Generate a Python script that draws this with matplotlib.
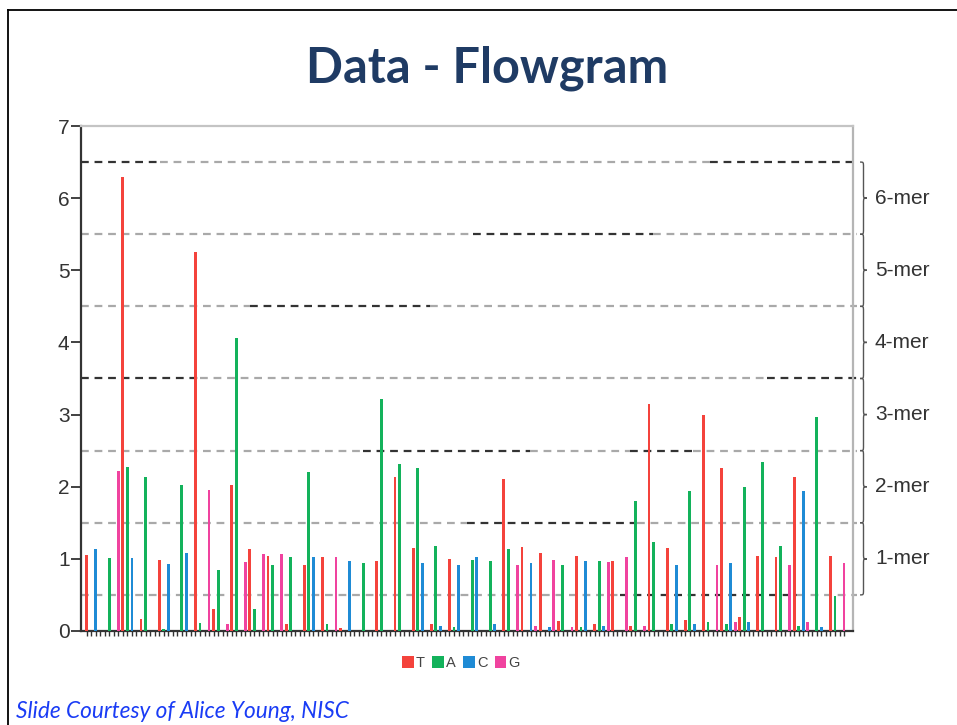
import numpy as np
import matplotlib.pyplot as plt
import matplotlib.transforms as mtransforms
from matplotlib.lines import Line2D
from matplotlib.patches import Patch, PathPatch
from matplotlib.path import Path

plt.rcParams['font.family'] = ['Liberation Sans', 'DejaVu Sans']

# flow cycle and the flows that gave a signal (all other flows are 0)
flow_order = ['T', 'A', 'C', 'G']
n_flows = 168
flow_num = [0, 2, 5, 7, 8, 9, 10, 12, 13, 16, 17, 18, 21, 22, 24, 25, 27, 28, 29, 31,
            32, 33, 35, 36, 37, 39, 40, 41, 43, 44, 45, 48, 49, 50, 52, 53, 55, 56, 58, 61,
            64, 65, 68, 69, 72, 73, 74, 76, 77, 78, 80, 81, 82, 85, 86, 89, 90, 92, 93, 95,
            96, 98, 99, 100, 102, 103, 104, 105, 107, 108, 109, 110, 112, 113, 114, 115, 116, 119, 120, 121,
            123, 124, 125, 128, 129, 130, 132, 133, 134, 136, 137, 139, 140, 141, 142, 143, 144, 145, 146, 148,
            149, 152, 153, 155, 156, 157, 158, 159, 161, 162, 164, 165, 167]
signal = [1.06, 1.14, 1.01, 2.22, 6.30, 2.27, 1.01, 0.16, 2.13, 0.98, 0.03, 0.93, 2.03, 1.08, 5.25, 0.11, 1.96, 0.30, 0.85, 0.09,
          2.03, 4.06, 0.95, 1.14, 0.30, 1.07, 1.04, 0.92, 1.07, 0.09, 1.02, 0.92, 2.21, 1.02, 1.02, 0.09, 1.02, 0.04, 0.97, 0.94,
          0.97, 3.21, 2.13, 2.31, 1.15, 2.26, 0.94, 0.09, 1.18, 0.07, 1.00, 0.05, 0.92, 0.99, 1.03, 0.97, 0.10, 2.11, 1.14, 0.92,
          1.16, 0.94, 0.07, 1.08, 0.05, 0.99, 0.14, 0.92, 0.05, 1.04, 0.05, 0.97, 0.10, 0.97, 0.07, 0.95, 0.97, 1.02, 0.07, 1.80,
          0.07, 3.15, 1.23, 1.15, 0.10, 0.92, 0.15, 1.94, 0.10, 3.00, 0.12, 0.92, 2.26, 0.10, 0.94, 0.12, 0.20, 2.00, 0.12, 1.04,
          2.34, 1.02, 1.18, 0.92, 2.13, 0.07, 1.94, 0.12, 2.97, 0.05, 1.04, 0.48, 0.94]
mer_labels = ['1-mer', '2-mer', '3-mer', '4-mer', '5-mer', '6-mer']
mer_centers = [1, 2, 3, 4, 5, 6]
y_ticks = [0, 1, 2, 3, 4, 5, 6, 7]

base_colors = {'T': '#f4433c', 'A': '#13b25b', 'C': '#1f8bd5', 'G': '#f0439f'}

# dark parts of the half-mer dashed lines (axes fraction), rest is light gray
dark_parts = {6.5: [(0, 0.103), (0.815, 1.006)],
              5.5: [(0.508, 0.741)],
              4.5: [(0.219, 0.452)],
              3.5: [(0, 0.155), (0.889, 1.006)],
              2.5: [(0.366, 0.582), (0.712, 0.793)],
              1.5: [(0.5, 0.721)],
              0.5: [(0.699, 0.928)]}

fig = plt.figure(figsize=(9.57, 7.25), dpi=100)
ax = fig.add_axes([0.0843, 0.1297, 0.8067, 0.6965])

bases = [flow_order[f % 4] for f in flow_num]
ax.bar(flow_num, signal, width=0.62, color=[base_colors[b] for b in bases], zorder=3, linewidth=0)

ax.set_xlim(-1.3, n_flows + 0.9)
ax.set_ylim(0, 7)

# dashed threshold lines
trans = mtransforms.blended_transform_factory(ax.transAxes, ax.transData)
dash = (0, (3.5, 2.6))
for lev, parts in dark_parts.items():
    edges = [0.0]
    for a, b in parts:
        edges += [a, b]
    edges.append(1.006)
    for i in range(len(edges) - 1):
        a, b = edges[i], edges[i + 1]
        if b <= a:
            continue
        col = '#a9a9a9' if i % 2 == 0 else '#333333'
        ax.plot([a, b], [lev, lev], transform=trans, color=col, lw=1.6, ls=dash,
                clip_on=False, zorder=2)

# braces on the right
def brace(y0, y1, x0=1.0095, w=0.009, e=0.07):
    xs = x0 + w / 2
    ym = (y0 + y1) / 2
    verts = [(x0, y0), (xs, y0), (xs, y0), (xs, y0 + e),
             (xs, ym - e),
             (xs, ym), (xs, ym), (x0 + w, ym),
             (xs, ym), (xs, ym), (xs, ym + e),
             (xs, y1 - e),
             (xs, y1), (xs, y1), (x0, y1)]
    codes = [Path.MOVETO, Path.CURVE4, Path.CURVE4, Path.CURVE4,
             Path.LINETO,
             Path.CURVE4, Path.CURVE4, Path.CURVE4,
             Path.CURVE4, Path.CURVE4, Path.CURVE4,
             Path.LINETO,
             Path.CURVE4, Path.CURVE4, Path.CURVE4]
    p = PathPatch(Path(verts, codes), transform=trans, fill=False,
                  edgecolor='#555555', lw=1.0, clip_on=False)
    ax.add_patch(p)

for c, lab in zip(mer_centers, mer_labels):
    brace(c - 0.5, c + 0.5)
    ax.text(1.0288, c, lab, transform=trans, fontsize=15, color='#333333',
            ha='left', va='center')

# axes styling
for side in ['left', 'bottom']:
    ax.spines[side].set_color('#333333')
    ax.spines[side].set_linewidth(1.6)
ax.spines['top'].set_color('#c4c4c4')
ax.spines['top'].set_linewidth(1.6)
ax.spines['right'].set_color('#b5b5b5')
ax.spines['right'].set_linewidth(1.6)

ax.set_yticks(y_ticks)
ax.set_yticklabels([str(t) for t in y_ticks])
ax.tick_params(axis='y', length=7, width=1.3, color='#333333', labelsize=15,
               labelcolor='#333333', pad=1)
ax.set_xticks(range(n_flows))
ax.set_xticklabels([])
ax.tick_params(axis='x', length=3.5, width=1.0, color='#333333')

# legend
handles = [Patch(facecolor=base_colors[b], edgecolor='none', label=b) for b in flow_order]
fig.legend(handles=handles, loc='center', bbox_to_anchor=(461 / 957, 1 - 663 / 725),
           ncol=4, frameon=False, fontsize=10.5, handlelength=0.8, handleheight=0.8,
           handletextpad=0.15, columnspacing=0.5, labelcolor='#444444')

# slide decorations
fig.add_artist(Line2D([8 / 957, 8 / 957], [0, 1 - 10 / 725], color='black', lw=1.3))
fig.add_artist(Line2D([8 / 957, 1], [1 - 10 / 725, 1 - 10 / 725], color='black', lw=1.3))
fig.text(487 / 957, 1 - 68 / 725, 'Data - Flowgram', ha='center', va='center',
         fontsize=35, fontweight='bold', color='#1f3b64', family=['Lato', 'DejaVu Sans'])
fig.text(16 / 957, 1 - 712 / 725, 'Slide Courtesy of Alice Young, NISC', ha='left', va='center',
         fontsize=16.3, style='italic', color='#1a3cf5', family=['Lato', 'DejaVu Sans'])

fig.savefig('out.png', dpi=100)
